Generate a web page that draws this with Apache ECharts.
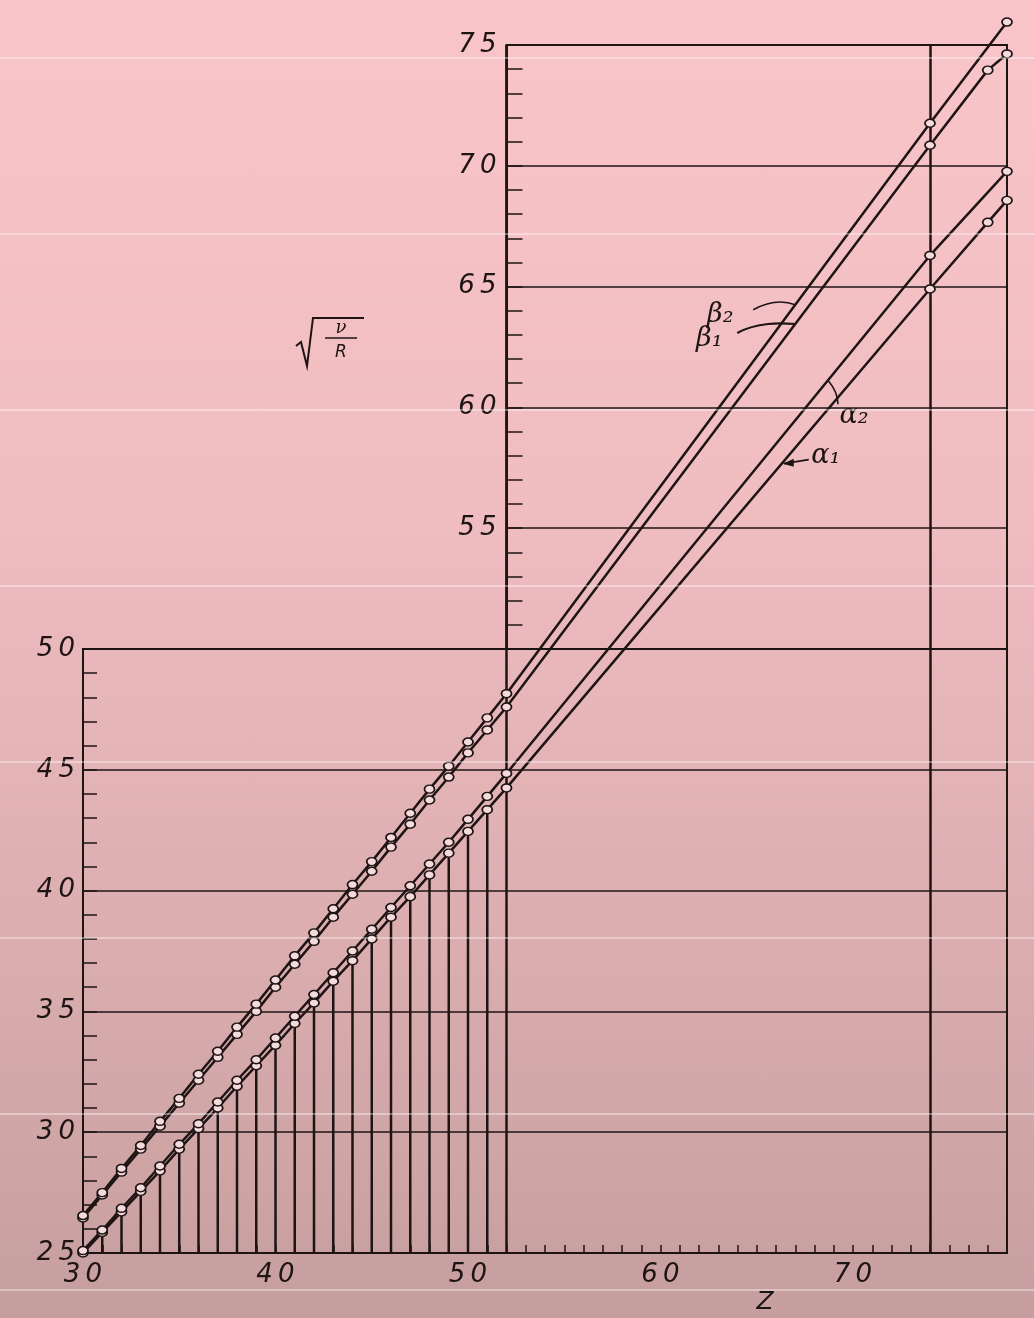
<!DOCTYPE html>
<html>
<head>
<meta charset="utf-8">
<script src="https://cdn.jsdelivr.net/npm/echarts@6/dist/echarts.min.js"></script>
<style>
  html, body { margin: 0; padding: 0; }
  #chart {
    width: 1034px; height: 1318px;
    background: linear-gradient(to bottom, #f9c5c8 0%, #efbcc0 40%, #dcaeb0 70%, #c69e9e 100%);
  }
</style>
</head>
<body>
<div id="chart"></div>
<script>
// atomic number Z (points measured for 30..52, then 74, 77, 78)
const zValues = [30, 31, 32, 33, 34, 35, 36, 37, 38, 39, 40, 41, 42, 43, 44, 45, 46, 47, 48, 49, 50, 51, 52, 74, 77, 78];

// sqrt(nu/R)
const alpha1 = [25.0, 25.85, 26.7, 27.55, 28.4, 29.3, 30.15, 31.0, 31.9, 32.75, 33.6, 34.5, 35.35, 36.25, 37.1, 38.0, 38.9, 39.75, 40.65, 41.55, 42.45, 43.35, 44.25, 64.9, 67.66, 68.57];
const alpha2 = [25.1, 25.95, 26.85, 27.7, 28.6, 29.5, 30.35, 31.25, 32.15, 33.0, 33.9, 34.8, 35.7, 36.6, 37.5, 38.4, 39.3, 40.2, 41.1, 42.0, 42.95, 43.9, 44.85, 66.29, null, 69.77];
const beta1 = [26.45, 27.4, 28.35, 29.3, 30.25, 31.2, 32.15, 33.1, 34.05, 35.0, 36.0, 36.95, 37.9, 38.9, 39.85, 40.8, 41.8, 42.75, 43.75, 44.7, 45.7, 46.65, 47.6, 70.85, 73.96, 74.63];
const beta2 = [26.55, 27.5, 28.5, 29.45, 30.45, 31.4, 32.4, 33.35, 34.35, 35.3, 36.3, 37.3, 38.25, 39.25, 40.25, 41.2, 42.2, 43.2, 44.2, 45.15, 46.15, 47.15, 48.15, 71.76, null, 75.95];

// full-height verticals
const fullLinesZ = [52, 74];

const ink = '#1e1414';
const labelFont = { color: ink, fontSize: 26, fontStyle: 'italic', fontFamily: 'DejaVu Sans' };
const spaced = v => String(v).split('').join('\u2009');

const chart = echarts.init(document.getElementById('chart'));

const pairs = arr => zValues.map((z, i) => [z, arr[i]]);

function lineSeries(name, arr) {
  return {
    name: name,
    type: 'line',
    xAxisIndex: 2, yAxisIndex: 2,
    data: pairs(arr),
    connectNulls: true,
    clip: false,
    symbol: 'circle',
    symbolSize: [10, 8],
    lineStyle: { color: ink, width: 2.5 },
    itemStyle: { color: '#f4dada', borderColor: ink, borderWidth: 1.6 },
    z: 5
  };
}

const dropData = zValues.filter(z => z < 52).map((z, i) => [z, alpha1[i]]);

chart.setOption({
  animation: false,
  grid: [
    { left: 83, right: 27, top: 649, bottom: 65, show: true, borderColor: ink, borderWidth: 2 },
    { left: 506.5, right: 27, top: 45, bottom: 669, show: true, borderColor: ink, borderWidth: 2 },
    { left: 83, right: 27, top: 45, bottom: 65 }
  ],
  xAxis: [
    {
      gridIndex: 0, type: 'value', min: 30, max: 78, interval: 1,
      axisLine: { lineStyle: { color: ink, width: 2 } },
      axisTick: { inside: true, length: 8, lineStyle: { color: ink, width: 1.5 } },
      axisLabel: Object.assign({ margin: 9, formatter: v => (v % 10 === 0 ? spaced(v) : '') }, labelFont),
      splitLine: { show: false }
    },
    { gridIndex: 1, type: 'value', min: 52, max: 78, show: false },
    { gridIndex: 2, type: 'value', min: 30, max: 78, show: false }
  ],
  yAxis: [
    {
      gridIndex: 0, type: 'value', min: 25, max: 50, interval: 5,
      axisLine: { show: true, lineStyle: { color: ink, width: 2 } },
      axisTick: { show: true, inside: true, length: 14, lineStyle: { color: ink, width: 1.5 } },
      minorTick: { show: true, splitNumber: 5, length: 14, lineStyle: { color: ink, width: 1.5 } },
      splitLine: { show: true, lineStyle: { color: ink, width: 1.5 } },
      axisLabel: Object.assign({ margin: 8, formatter: v => spaced(v) }, labelFont)
    },
    {
      gridIndex: 1, type: 'value', min: 50, max: 75, interval: 5,
      axisLine: { show: true, lineStyle: { color: ink, width: 2 } },
      axisTick: { show: true, inside: true, length: 16, lineStyle: { color: ink, width: 1.5 } },
      minorTick: { show: true, splitNumber: 5, length: 16, lineStyle: { color: ink, width: 1.5 } },
      splitLine: { show: true, lineStyle: { color: ink, width: 1.5 } },
      axisLabel: Object.assign({ margin: 10, formatter: v => (v === 50 ? '' : spaced(v)) }, labelFont)
    },
    { gridIndex: 2, type: 'value', min: 25, max: 75, show: false }
  ],
  series: [
    {
      name: 'drop', type: 'bar',
      xAxisIndex: 2, yAxisIndex: 2,
      data: dropData,
      barWidth: 2.5,
      itemStyle: { color: ink },
      silent: true,
      z: 2,
      markLine: {
        symbol: 'none', silent: true,
        label: { show: false },
        lineStyle: { color: ink, width: 2.5, type: 'solid' },
        data: fullLinesZ.map(z => ({ xAxis: z }))
      }
    },
    lineSeries('alpha1', alpha1),
    lineSeries('alpha2', alpha2),
    lineSeries('beta1', beta1),
    lineSeries('beta2', beta2)
  ]
});

// annotation anchors on the lines
function valueAt(arr, z) {
  const pts = pairs(arr).filter(p => p[1] != null);
  for (let i = 0; i < pts.length - 1; i++) {
    if (z >= pts[i][0] && z <= pts[i + 1][0]) {
      const t = (z - pts[i][0]) / (pts[i + 1][0] - pts[i][0]);
      return pts[i][1] + t * (pts[i + 1][1] - pts[i][1]);
    }
  }
  return arr[arr.length - 1];
}
const px = (arr, z) => chart.convertToPixel({ gridIndex: 2 }, [z, valueAt(arr, z)]);

const aB2 = px(beta2, 67.0);
const aB1 = px(beta1, 67.0);
const aA2 = px(alpha2, 68.7);
const aA1 = px(alpha1, 66.3);

const greek = { fill: ink, fontSize: 27, fontStyle: 'italic', fontFamily: 'DejaVu Serif', align: 'center', verticalAlign: 'middle' };
const lead = { stroke: ink, lineWidth: 1.6, fill: null };

const scanLines = [58, 234, 410, 586, 762, 938, 1114, 1290];

chart.setOption({
  graphic: [
    // scan seams
    ...scanLines.map(y => ({
      type: 'line', silent: true, z: 100,
      shape: { x1: 0, y1: y, x2: 1034, y2: y },
      style: { stroke: 'rgba(255,255,255,0.75)', lineWidth: 1 }
    })),
    // beta2
    { type: 'text', x: aB2[0] - 75, y: aB2[1] + 10, style: Object.assign({ text: 'β₂' }, greek) },
    { type: 'bezierCurve', shape: { x1: aB2[0] - 42, y1: aB2[1] + 5, cpx1: aB2[0] - 22, cpy1: aB2[1] - 6, cpx2: aB2[0] - 8, cpy2: aB2[1] - 3, x2: aB2[0], y2: aB2[1] }, style: lead },
    // beta1
    { type: 'text', x: aB1[0] - 86, y: aB1[1] + 15, style: Object.assign({ text: 'β₁' }, greek) },
    { type: 'bezierCurve', shape: { x1: aB1[0] - 58, y1: aB1[1] + 9, cpx1: aB1[0] - 38, cpy1: aB1[1] - 2, cpx2: aB1[0] - 15, cpy2: aB1[1] - 1, x2: aB1[0], y2: aB1[1] }, style: { stroke: ink, lineWidth: 2.2, fill: null } },
    // alpha2
    { type: 'bezierCurve', shape: { x1: aA2[0], y1: aA2[1], cpx1: aA2[0] + 5, cpy1: aA2[1] + 6, cpx2: aA2[0] + 10, cpy2: aA2[1] + 14, x2: aA2[0] + 10, y2: aA2[1] + 24 }, style: lead },
    { type: 'text', x: aA2[0] + 26, y: aA2[1] + 36, style: Object.assign({ text: 'α₂' }, greek) },
    // alpha1
    { type: 'line', shape: { x1: aA1[0] + 2, y1: aA1[1], x2: aA1[0] + 27, y2: aA1[1] - 4 }, style: lead },
    { type: 'polygon', shape: { points: [[aA1[0] + 1, aA1[1]], [aA1[0] + 12, aA1[1] - 5], [aA1[0] + 12, aA1[1] + 3]] }, style: { fill: ink } },
    { type: 'text', x: aA1[0] + 44, y: aA1[1] - 8, style: Object.assign({ text: 'α₁' }, greek) },
    // sqrt(nu/R)
    { type: 'polyline', shape: { points: [[296, 346], [301, 342], [307, 366], [313, 318], [364, 318]] }, style: { stroke: ink, lineWidth: 2, fill: null } },
    { type: 'text', x: 341, y: 328, style: { text: 'ν', fill: ink, fontSize: 18, fontStyle: 'italic', fontFamily: 'DejaVu Serif', align: 'center', verticalAlign: 'middle' } },
    { type: 'line', shape: { x1: 325, y1: 338, x2: 357, y2: 338 }, style: { stroke: ink, lineWidth: 1.5 } },
    { type: 'text', x: 341, y: 353, style: { text: 'R', fill: ink, fontSize: 17, fontStyle: 'italic', fontFamily: 'DejaVu Sans', align: 'center', verticalAlign: 'middle' } },
    // axis title
    { type: 'text', x: 765, y: 1302, style: { text: 'Z', fill: ink, fontSize: 25, fontStyle: 'italic', fontFamily: 'DejaVu Sans', align: 'center', verticalAlign: 'middle' } }
  ]
});
</script>
</body>
</html>
